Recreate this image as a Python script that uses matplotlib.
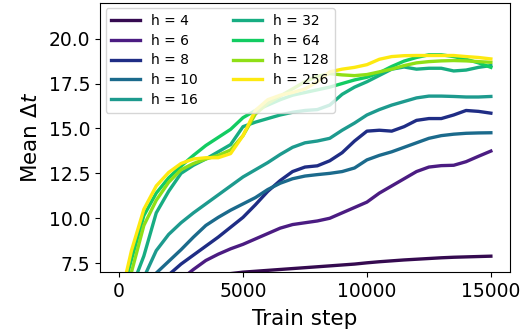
import matplotlib
matplotlib.use("Agg")
import matplotlib.pyplot as plt

steps = [0, 500, 1000, 1500, 2000, 2500, 3000, 3500, 4000, 4500, 5000,
         5500, 6000, 6500, 7000, 7500, 8000, 8500, 9000, 9500, 10000,
         10500, 11000, 11500, 12000, 12500, 13000, 13500, 14000, 14500, 15000]

h4 = [5.6, 5.8, 6.0, 6.2, 6.35, 6.5, 6.62, 6.73, 6.83, 6.92, 7.0,
      7.05, 7.1, 7.15, 7.2, 7.25, 7.3, 7.35, 7.4, 7.45, 7.52,
      7.58, 7.63, 7.68, 7.72, 7.76, 7.8, 7.83, 7.85, 7.87, 7.89]
h6 = [4.5, 4.9, 5.3, 5.7, 6.15, 6.6, 7.15, 7.65, 8.0, 8.3, 8.55,
      8.85, 9.15, 9.45, 9.65, 9.75, 9.85, 10.0, 10.3, 10.6, 10.9,
      11.4, 11.8, 12.2, 12.6, 12.85, 12.93, 12.95, 13.15, 13.45, 13.74]
h8 = [4.5, 5.0, 5.5, 6.2, 6.85, 7.45, 7.95, 8.45, 8.95, 9.5, 10.05,
      10.75, 11.5, 12.1, 12.6, 12.85, 12.92, 13.2, 13.65, 14.3, 14.85,
      14.9, 14.85, 15.1, 15.45, 15.55, 15.55, 15.75, 16.0, 15.95, 15.85]
h10 = [4.5, 5.0, 5.8, 6.95, 7.6, 8.25, 8.95, 9.6, 10.05, 10.45, 10.8,
       11.15, 11.6, 11.95, 12.2, 12.35, 12.43, 12.5, 12.6, 12.8, 13.25,
       13.5, 13.7, 13.95, 14.2, 14.45, 14.6, 14.68, 14.73, 14.75, 14.76]
h16 = [4.5, 5.6, 6.7, 8.2, 9.1, 9.75, 10.3, 10.8, 11.3, 11.8, 12.3,
       12.7, 13.1, 13.55, 13.95, 14.2, 14.3, 14.45, 14.9, 15.3, 15.75,
       16.05, 16.3, 16.5, 16.7, 16.8, 16.8, 16.78, 16.75, 16.75, 16.78]
h32 = [4.8, 6.1, 7.9, 10.3, 11.5, 12.5, 12.95, 13.3, 13.7, 14.1, 15.1,
       15.35, 15.55, 15.75, 15.9, 16.0, 16.05, 16.3, 16.9, 17.3, 17.6,
       17.95, 18.3, 18.42, 18.3, 18.35, 18.35, 18.2, 18.25, 18.4, 18.5]
h64 = [5.2, 7.7, 10.15, 11.4, 12.25, 12.9, 13.5, 14.05, 14.5, 14.95, 15.6,
       16.0, 16.3, 16.6, 16.85, 17.0, 17.15, 17.3, 17.5, 17.7, 17.85,
       18.1, 18.45, 18.75, 18.95, 19.1, 19.1, 19.0, 18.85, 18.65, 18.4]
h128 = [5.0, 7.0, 9.6, 11.0, 12.0, 12.7, 13.05, 13.3, 13.5, 13.8, 14.6,
        15.8, 16.4, 16.8, 17.2, 17.6, 17.9, 18.05, 17.98, 17.94, 18.0,
        18.15, 18.3, 18.5, 18.65, 18.72, 18.76, 18.78, 18.76, 18.72, 18.68]
h256 = [5.2, 8.2, 10.5, 11.8, 12.55, 13.05, 13.3, 13.37, 13.37, 13.6, 14.6,
        16.0, 16.6, 16.85, 17.0, 17.2, 17.6, 18.15, 18.3, 18.4, 18.55,
        18.85, 19.0, 19.05, 19.06, 19.06, 19.06, 19.06, 19.0, 18.95, 18.87]

labels = ["h = 4", "h = 6", "h = 8", "h = 10", "h = 16",
          "h = 32", "h = 64", "h = 128", "h = 256"]
series = [h4, h6, h8, h10, h16, h32, h64, h128, h256]
colors = ["#350a50", "#4b1c82", "#1f2d85", "#1b6a8c", "#1d9a8e",
          "#17ad82", "#12cc62", "#8fdf16", "#fde910"]

fig = plt.figure(figsize=(5.24, 3.36), dpi=100)
ax = fig.add_axes([0.191, 0.19, 0.782, 0.802])

for vals, lab, c in zip(series, labels, colors):
    ax.plot(steps, vals, color=c, lw=2.4, label=lab)

ax.set_ylim(7.0, 22.0)
ax.set_xlim(-766, 15766)
ax.set_yticks([7.5, 10.0, 12.5, 15.0, 17.5, 20.0])
ax.set_xticks([0, 5000, 10000, 15000])
ax.tick_params(labelsize=13.5)
ax.set_xlabel("Train step", fontsize=15.5, labelpad=6)
ax.set_ylabel(r"Mean $\Delta t$", fontsize=15.5, labelpad=6)

ax.legend(loc="upper left", ncol=2, fontsize=10, handlelength=2.1,
          columnspacing=2.5, labelspacing=0.42, borderaxespad=0.4)

fig.savefig("out.png", dpi=100)
